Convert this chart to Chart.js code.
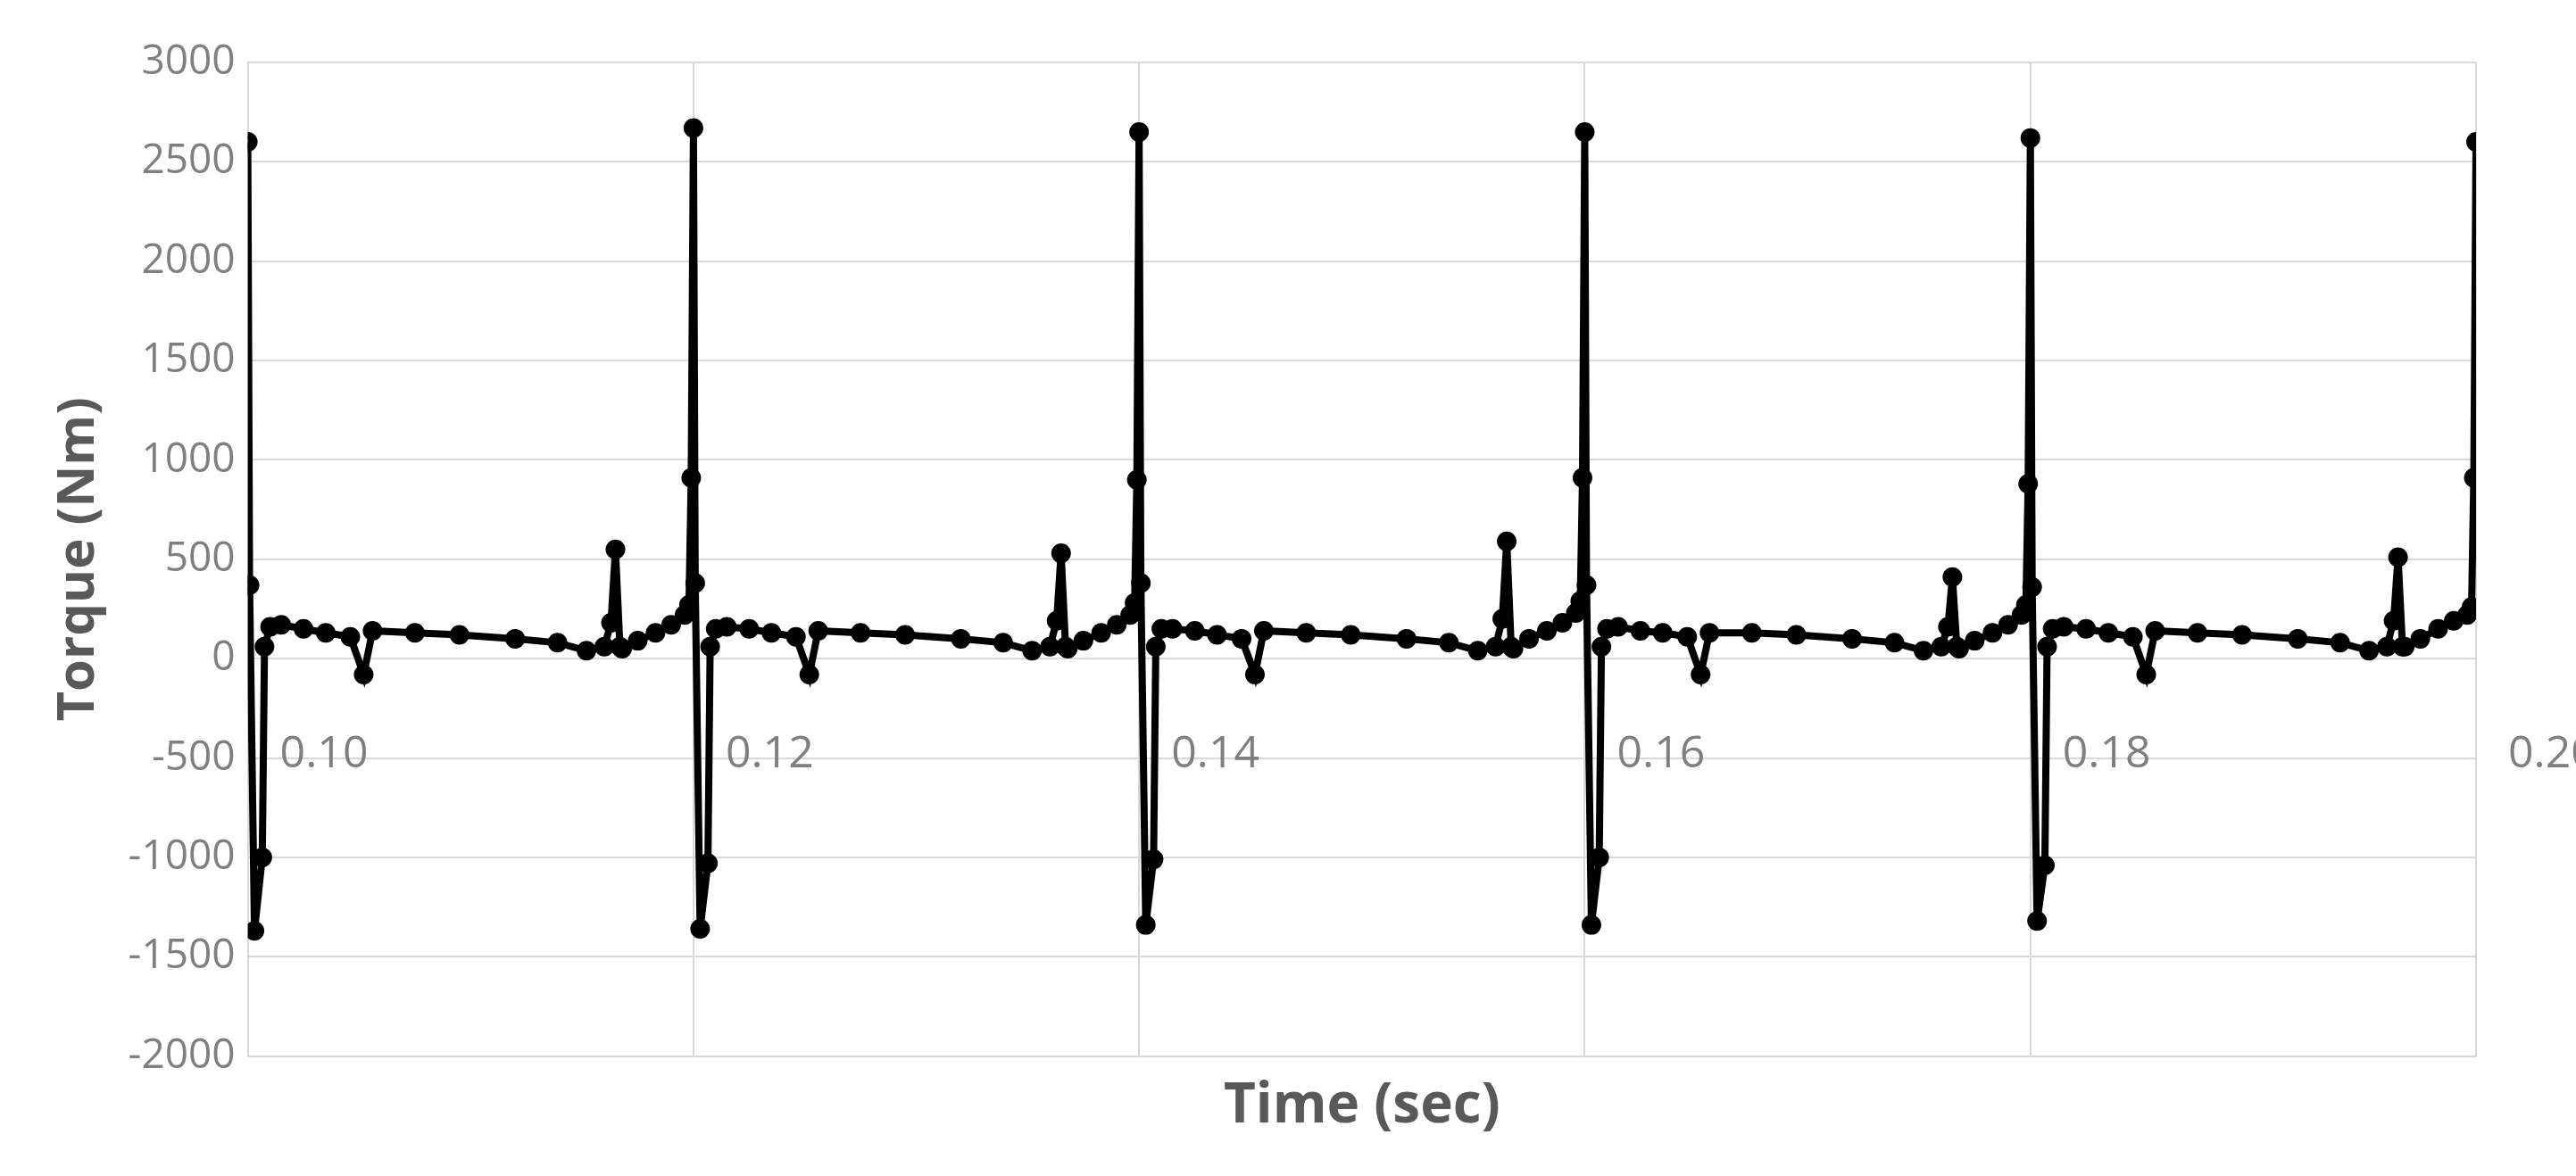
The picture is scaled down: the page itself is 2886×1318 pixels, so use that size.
<!DOCTYPE html>
<html lang="en">
<head>
  <meta charset="UTF-8" />
  <title>Torque vs Time</title>
  <script src="https://cdn.jsdelivr.net/npm/chart.js"></script>
  <style>
    html, body { margin: 0; padding: 0; background: #fff; }
    #wrap { width: 2886px; height: 1318px; }
  </style>
</head>
<body>
  <div id="wrap"><canvas id="torqueChart"></canvas></div>

  <script>
    // Time samples (sec)
    const timeSec = [
      0.10000,0.10008,0.10030,0.10065,0.10075,0.10100,0.10150,0.10250,0.10350,0.10460,0.10520,0.10560,0.10750,0.10950,0.11200,0.11390,0.11520,0.11600,0.11630,0.11650,0.11670,0.11680,0.11750,0.11830,0.11900,0.11960,0.11980,0.11990,
      0.12000,0.12008,0.12030,0.12065,0.12075,0.12100,0.12150,0.12250,0.12350,0.12460,0.12520,0.12560,0.12750,0.12950,0.13200,0.13390,0.13520,0.13600,0.13630,0.13650,0.13670,0.13680,0.13750,0.13830,0.13900,0.13960,0.13980,0.13990,
      0.14000,0.14008,0.14030,0.14065,0.14075,0.14100,0.14150,0.14250,0.14350,0.14460,0.14520,0.14560,0.14750,0.14950,0.15200,0.15390,0.15520,0.15600,0.15630,0.15650,0.15670,0.15680,0.15750,0.15830,0.15900,0.15960,0.15980,0.15990,
      0.16000,0.16008,0.16030,0.16065,0.16075,0.16100,0.16150,0.16250,0.16350,0.16460,0.16520,0.16560,0.16750,0.16950,0.17200,0.17390,0.17520,0.17600,0.17630,0.17650,0.17670,0.17680,0.17750,0.17830,0.17900,0.17960,0.17980,0.17990,
      0.18000,0.18008,0.18030,0.18065,0.18075,0.18100,0.18150,0.18250,0.18350,0.18460,0.18520,0.18560,0.18750,0.18950,0.19200,0.19390,0.19520,0.19600,0.19630,0.19650,0.19670,0.19680,0.19750,0.19830,0.19900,0.19960,0.19980,0.19990,
      0.20000
    ];
    // Torque (Nm)
    const torqueNm = [
      2600,370,-1370,-1000,60,160,170,150,130,110,-80,140,130,120,100,80,40,60,180,550,60,50,90,130,170,220,270,910,
      2670,380,-1360,-1030,60,150,160,150,130,110,-80,140,130,120,100,80,40,60,190,530,60,50,90,130,170,220,280,900,
      2650,380,-1340,-1010,60,150,150,140,120,100,-80,140,130,120,100,80,40,60,200,590,60,50,100,140,180,230,290,910,
      2650,370,-1340,-1000,60,150,160,140,130,110,-80,130,130,120,100,80,40,60,160,410,60,50,90,130,170,220,270,880,
      2620,360,-1320,-1040,60,150,160,150,130,110,-80,140,130,120,100,80,40,60,190,510,60,60,100,150,190,220,260,910,
      2600
    ];
    const timeTicks = [0.10, 0.12, 0.14, 0.16, 0.18, 0.20];
    const torqueTicks = [-2000, -1500, -1000, -500, 0, 500, 1000, 1500, 2000, 2500, 3000];

    const points = timeSec.map((t, i) => ({ x: t, y: torqueNm[i] }));
    const gridColor = '#d9d9d9';
    const tickColor = '#7f7f7f';
    const titleColor = '#595959';

    new Chart(document.getElementById('torqueChart'), {
      type: 'line',
      data: {
        datasets: [{
          data: points,
          borderColor: '#000',
          backgroundColor: '#000',
          borderWidth: 8,
          pointRadius: 7,
          pointHoverRadius: 7,
          tension: 0
        }]
      },
      options: {
        responsive: true,
        maintainAspectRatio: false,
        animation: false,
        layout: { padding: { left: 50, right: 112, top: 70, bottom: 40 } },
        plugins: { legend: { display: false }, tooltip: { enabled: false } },
        scales: {
          x: {
            type: 'linear',
            min: 0.10, max: 0.20,
            afterBuildTicks: s => { s.ticks = timeTicks.map(v => ({ value: v })); },
            grid: { color: gridColor, lineWidth: 2, drawTicks: false },
            border: { color: gridColor, width: 2 },
            ticks: { display: false },
            title: {
              display: true, text: 'Time (sec)', color: titleColor,
              font: { family: 'Open Sans', size: 62, weight: 'bold' },
              padding: { top: 20, bottom: 0 }
            }
          },
          x2: {
            type: 'linear',
            axis: 'x',
            position: { y: 0 },
            min: 0.10, max: 0.20,
            afterBuildTicks: s => { s.ticks = timeTicks.map(v => ({ value: v })); },
            afterFit: s => { s.paddingLeft = 0; s.paddingRight = 0; },
            grid: { display: false },
            border: { display: false },
            ticks: {
              align: 'start',
              labelOffset: 36,
              padding: 70,
              maxRotation: 0,
              autoSkip: false,
              color: tickColor,
              font: { family: 'Open Sans', size: 50 },
              callback: v => v.toFixed(2)
            }
          },
          y: {
            min: -2000, max: 3000,
            afterBuildTicks: s => { s.ticks = torqueTicks.map(v => ({ value: v })); },
            grid: { color: gridColor, lineWidth: 2, drawTicks: false },
            border: { color: gridColor, width: 2 },
            ticks: {
              color: tickColor, padding: 14,
              font: { family: 'Open Sans', size: 46 },
              callback: v => String(v)
            },
            title: {
              display: true, text: 'Torque (Nm)', color: titleColor,
              font: { family: 'Open Sans', size: 58, weight: 'bold' },
              padding: { bottom: 6 }
            }
          }
        }
      }
    });
  </script>
</body>
</html>
